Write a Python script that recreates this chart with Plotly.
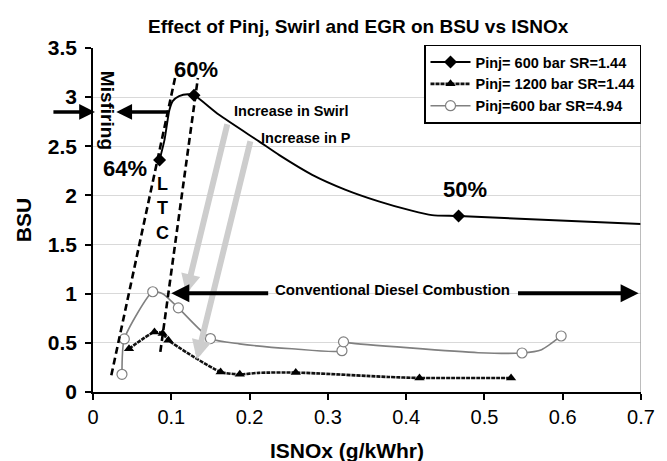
import plotly.graph_objects as go

# ---- data (ISNOx in g/kWhr, BSU) ----
# Pinj = 600 bar, SR = 1.44 : measured points and traced curve
s1_x = [0.085, 0.129, 0.467]
s1_y = [2.36, 3.02, 1.79]
s1_curve_x = [0.085, 0.0912, 0.0954, 0.0976, 0.1018, 0.110, 0.121, 0.129, 0.161, 0.212, 0.238, 0.280,
              0.322, 0.365, 0.407, 0.433, 0.467, 0.700]
s1_curve_y = [2.36, 2.56, 2.77, 2.87, 2.96, 3.01, 3.03, 3.02, 2.82, 2.55, 2.41, 2.21,
              2.06, 1.94, 1.845, 1.80, 1.79, 1.71]

# Pinj = 1200 bar, SR = 1.44
s2_x = [0.046, 0.0785, 0.089, 0.0963, 0.163, 0.1875, 0.259, 0.417, 0.534]
s2_y = [0.44, 0.61, 0.595, 0.527, 0.204, 0.18, 0.198, 0.143, 0.143]
s2_curve_x = [0.046, 0.0785, 0.089, 0.0963, 0.163, 0.1875, 0.212, 0.259, 0.377, 0.417, 0.534]
s2_curve_y = [0.44, 0.61, 0.595, 0.527, 0.204, 0.18, 0.195, 0.198, 0.153, 0.143, 0.143]

# Pinj = 600 bar, SR = 4.94
s3_x = [0.037, 0.040, 0.0763, 0.109, 0.150, 0.318, 0.320, 0.548, 0.598]
s3_y = [0.18, 0.54, 1.02, 0.856, 0.544, 0.42, 0.51, 0.397, 0.57]
s3_curve_x = [0.037, 0.040, 0.0763, 0.089, 0.109, 0.150, 0.187, 0.254, 0.318, 0.320, 0.327, 0.492, 0.548, 0.573, 0.598]
s3_curve_y = [0.18, 0.54, 1.02, 1.00, 0.856, 0.544, 0.49, 0.44, 0.42, 0.51, 0.50, 0.40, 0.397, 0.43, 0.57]

series_names = ["Pinj= 600 bar SR=1.44", "Pinj= 1200 bar SR=1.44", "Pinj=600 bar SR=4.94"]

# LTC boundary lines (x0, y0, x1, y1)
ltc_left = [0.0234, 0.170, 0.1048, 3.195]
ltc_right = [0.0860, 0.408, 0.1340, 3.195]

x_ticks = [0, 0.1, 0.2, 0.3, 0.4, 0.5, 0.6, 0.7]
y_ticks = [0, 0.5, 1, 1.5, 2, 2.5, 3, 3.5]

FONT = "Arial, Liberation Sans, sans-serif"

fig = go.Figure()

line_styles = [
    dict(color="black", width=1.9),
    dict(color="#111111", width=2.6, dash="4px,1px"),
    dict(color="#808080", width=1.6),
]
marker_styles = [
    dict(symbol="diamond", size=10, color="black"),
    dict(symbol="triangle-up", size=9, color="black"),
    dict(symbol="circle", size=10, color="white", line=dict(color="#808080", width=1.2)),
]
curves = [(s1_curve_x, s1_curve_y), (s2_curve_x, s2_curve_y), (s3_curve_x, s3_curve_y)]
points = [(s1_x, s1_y), (s2_x, s2_y), (s3_x, s3_y)]

for i in range(3):
    cx, cy = curves[i]
    fig.add_trace(go.Scatter(x=cx, y=cy, mode="lines", line=dict(shape="spline", smoothing=0.6, **line_styles[i]),
                             showlegend=False, hoverinfo="skip"))
    px_, py_ = points[i]
    fig.add_trace(go.Scatter(x=px_, y=py_, mode="markers", marker=marker_styles[i], showlegend=False))
    # legend entry
    fig.add_trace(go.Scatter(x=[None], y=[None], mode="lines+markers", name=series_names[i],
                             line=line_styles[i], marker=marker_styles[i]))

# LTC dashed boundaries
for seg in (ltc_left, ltc_right):
    fig.add_shape(type="line", xref="x", yref="y", x0=seg[0], y0=seg[1], x1=seg[2], y1=seg[3],
                  line=dict(color="black", width=2.6, dash="7px,4px"))

# right frame edge
fig.add_shape(type="line", xref="x", yref="y", x0=0.7, y0=0, x1=0.7, y1=3.5,
              line=dict(color="#a6a6a6", width=1.5))

bold = dict(family=FONT, color="black", weight="bold")

ann = []
# gray trend arrows
ann.append(dict(x=0.119, y=1.0, ax=0.172, ay=2.74, xref="x", yref="y", axref="x", ayref="y",
                showarrow=True, arrowhead=2, arrowsize=0.65, arrowwidth=6, arrowcolor="#cdcdcd", text=""))
ann.append(dict(x=0.1326, y=0.33, ax=0.2015, ay=2.566, xref="x", yref="y", axref="x", ayref="y",
                showarrow=True, arrowhead=2, arrowsize=0.65, arrowwidth=6, arrowcolor="#cdcdcd", text=""))
# black arrows
ann.append(dict(x=0.0298, y=2.85, ax=0.0967, ay=2.85, xref="x", yref="y", axref="x", ayref="y",
                showarrow=True, arrowhead=2, arrowsize=0.9, arrowwidth=3.5, arrowcolor="black", text=""))
ann.append(dict(x=0.0035, y=2.85, ax=-43, ay=0, xref="paper", yref="y", axref="pixel", ayref="pixel",
                showarrow=True, arrowhead=2, arrowsize=0.9, arrowwidth=3.5, arrowcolor="black", text=""))
ann.append(dict(x=0.1, y=1.005, ax=0.2257, ay=1.005, xref="x", yref="y", axref="x", ayref="y",
                showarrow=True, arrowhead=2, arrowsize=0.9, arrowwidth=4, arrowcolor="black", text=""))
ann.append(dict(x=0.697, y=1.005, ax=0.541, ay=1.005, xref="x", yref="y", axref="x", ayref="y",
                showarrow=True, arrowhead=2, arrowsize=0.9, arrowwidth=4, arrowcolor="black", text=""))

# text labels
def label(text, x, y, size, xanchor="center", angle=0):
    ann.append(dict(text=text, x=x, y=y, xref="x", yref="y", showarrow=False, xanchor=xanchor,
                    yanchor="middle", textangle=angle, font=dict(size=size, **bold)))

label("60%", 0.132, 3.28, 22)
label("64%", 0.0413, 2.27, 22)
label("50%", 0.475, 2.06, 22)
label("L", 0.089, 2.12, 18)
label("T", 0.089, 1.87, 18)
label("C", 0.089, 1.615, 18)
label("Misfiring", 0.018, 2.87, 19, angle=90)
label("Increase in Swirl", 0.178, 2.854, 14.5, xanchor="left")
label("Increase in P", 0.212, 2.583, 14.5, xanchor="left")
label("Conventional Diesel Combustion", 0.2299, 1.042, 15, xanchor="left")

# x axis title
ann.append(dict(text="ISNOx (g/kWhr)", x=0.325, y=-0.171, xref="x", yref="paper", showarrow=False,
                xanchor="center", yanchor="middle", font=dict(size=21, **bold)))

fig.update_layout(
    width=667, height=461,
    margin=dict(l=93, r=24, t=48, b=69),
    paper_bgcolor="white", plot_bgcolor="white",
    font=dict(family=FONT, color="black"),
    title=dict(text="Effect of Pinj, Swirl and EGR on BSU vs ISNOx", x=0.537, xanchor="center",
               y=0.942, yanchor="middle", font=dict(size=19, **bold)),
    showlegend=True,
    legend=dict(x=1, y=1.01, xanchor="right", yanchor="top", bgcolor="white", bordercolor="black",
                borderwidth=1.5, font=dict(size=14.5, **bold), itemwidth=40, tracegroupgap=0),
    annotations=ann,
)

fig.update_xaxes(range=[0, 0.7], tickvals=x_ticks, ticktext=[("%g" % v) for v in x_ticks],
                 showline=True, linecolor="black", linewidth=1.5, ticks="outside", ticklen=6,
                 tickcolor="black", tickwidth=1.5, showgrid=False, zeroline=False,
                 tickfont=dict(family=FONT, size=20, color="black"))
fig.update_yaxes(range=[0, 3.5], tickvals=y_ticks, ticktext=[("%g" % v) for v in y_ticks],
                 showline=True, linecolor="black", linewidth=1.5, ticks="outside", ticklen=6,
                 tickcolor="black", tickwidth=1.5, showgrid=True, gridcolor="#d9d9d9", gridwidth=1,
                 zeroline=False, ticklabelstandoff=4,
                 tickfont=dict(family=FONT, size=21, color="black", weight="bold"),
                 title=dict(text="BSU", font=dict(size=21, **bold), standoff=10))

fig.write_html("out.html")
